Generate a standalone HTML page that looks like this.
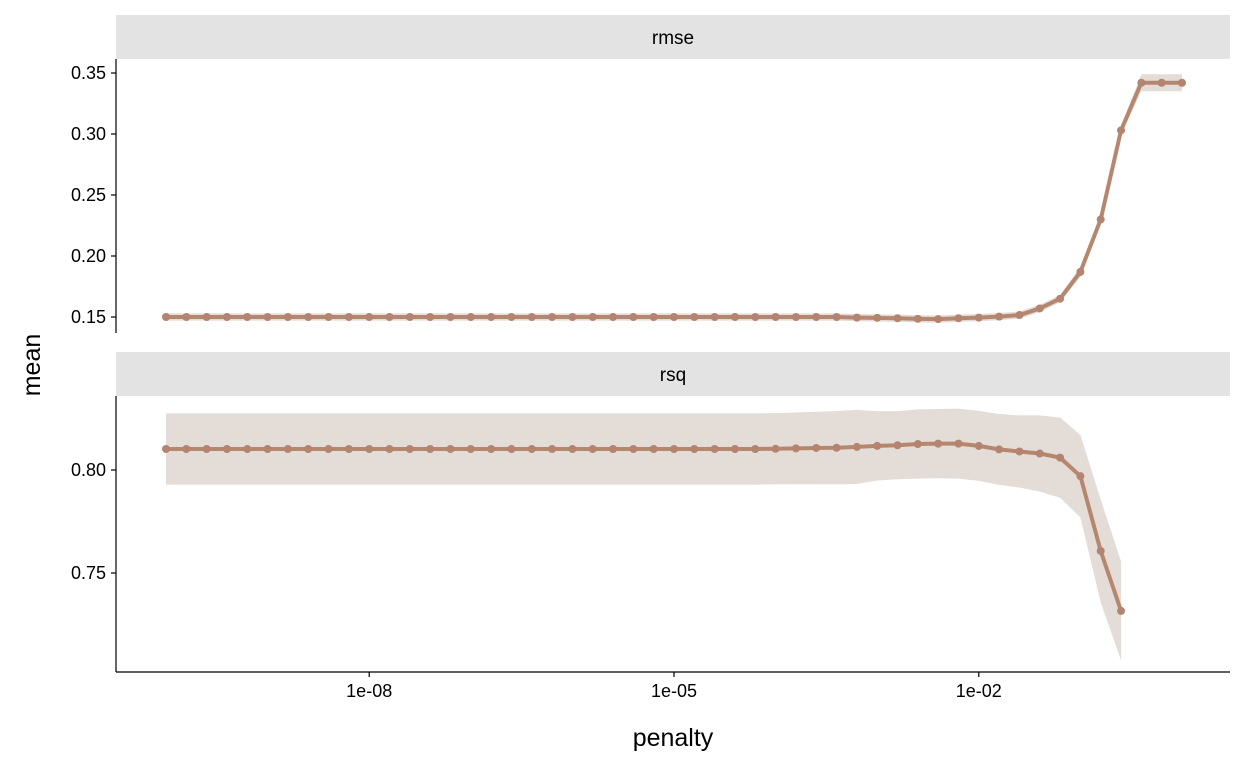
<!DOCTYPE html>
<html><head><meta charset="utf-8">
<style>
body{margin:0;background:#fff;}
svg text{font-family:"Liberation Sans Narrow","Liberation Sans",sans-serif;fill:#000;}
</style></head>
<body>
<svg id="chart" width="1248" height="768" xmlns="http://www.w3.org/2000/svg">
<rect x="116" y="15" width="1114" height="44" fill="#e3e3e3"/>
<text x="673" y="44" font-size="19" text-anchor="middle">rmse</text>
<rect x="116" y="352" width="1114" height="44" fill="#e3e3e3"/>
<text x="673" y="381" font-size="19" text-anchor="middle">rsq</text>
<g id="p1"></g>
<g id="p2"></g>
<line x1="116" y1="59" x2="116" y2="333" stroke="#000" stroke-width="1.2"/>
<line x1="116" y1="396" x2="116" y2="672" stroke="#000" stroke-width="1.2"/>
<line x1="116" y1="672" x2="1230" y2="672" stroke="#000" stroke-width="1.2"/>
<g id="ax"></g>
<text x="673" y="746" font-size="25" text-anchor="middle">penalty</text>
<text transform="translate(40,365) rotate(-90)" font-size="25" text-anchor="middle">mean</text>
</svg>
<script>
const logPenalty = Array.from({length:51},(_, i)=>-10+i*0.2);
const rmseMean = [0.150,0.150,0.150,0.150,0.150,0.150,0.150,0.150,0.150,0.150,0.150,0.150,0.150,0.150,0.150,0.150,0.150,0.150,0.150,0.150,0.150,0.150,0.150,0.150,0.150,0.150,0.150,0.150,0.150,0.150,0.150,0.150,0.150,0.150,0.1495,0.1493,0.149,0.1485,0.1483,0.149,0.1495,0.1503,0.1516,0.157,0.165,0.187,0.230,0.303,0.342,0.342,0.342];
const rmseSe = [0.003,0.003,0.003,0.003,0.003,0.003,0.003,0.003,0.003,0.003,0.003,0.003,0.003,0.003,0.003,0.003,0.003,0.003,0.003,0.003,0.003,0.003,0.003,0.003,0.003,0.003,0.003,0.003,0.003,0.003,0.003,0.003,0.003,0.003,0.003,0.003,0.003,0.003,0.003,0.003,0.003,0.003,0.003,0.003,0.003,0.004,0.004,0.004,0.007,0.007,0.007];
const rsqMean = [0.8102,0.8102,0.8102,0.8102,0.8102,0.8102,0.8102,0.8102,0.8102,0.8102,0.8102,0.8102,0.8102,0.8102,0.8102,0.8102,0.8102,0.8102,0.8102,0.8102,0.8102,0.8102,0.8102,0.8102,0.8102,0.8102,0.8102,0.8102,0.8102,0.8102,0.8103,0.8105,0.8107,0.8108,0.8112,0.8117,0.812,0.8126,0.8128,0.8128,0.8117,0.810,0.809,0.808,0.806,0.797,0.7607,0.7316];
const rsqSe = [0.0173,0.0173,0.0173,0.0173,0.0173,0.0173,0.0173,0.0173,0.0173,0.0173,0.0173,0.0173,0.0173,0.0173,0.0173,0.0173,0.0173,0.0173,0.0173,0.0173,0.0173,0.0173,0.0173,0.0173,0.0173,0.0173,0.0173,0.0173,0.0173,0.0173,0.0173,0.0174,0.0176,0.0178,0.018,0.0168,0.0165,0.0168,0.0168,0.017,0.017,0.0172,0.0175,0.0185,0.0195,0.020,0.025,0.024];
const xTicks = [-8,-5,-2];
const xTickLabels = ["1e-08","1e-05","1e-02"];
const rmseTicks = [0.15,0.20,0.25,0.30,0.35];
const rmseTickLabels = ["0.15","0.20","0.25","0.30","0.35"];
const rsqTicks = [0.75,0.80];
const rsqTickLabels = ["0.75","0.80"];

const NS="http://www.w3.org/2000/svg";
const X = v => 166 + (v+10)*101.6;
const Y1 = v => 317 - (v-0.15)*1220;
const Y2 = v => 470 - (v-0.80)*2060;
function mk(tag, attrs, parent){const e=document.createElementNS(NS,tag);for(const k in attrs)e.setAttribute(k,attrs[k]);parent.appendChild(e);return e;}

function panel(g, mean, se, Y, name){
  const n=mean.length;
  let up=[],lo=[];
  for(let i=0;i<n;i++){up.push(X(logPenalty[i])+","+Y(mean[i]+se[i]));lo.unshift(X(logPenalty[i])+","+Y(mean[i]-se[i]));}
  const rb=mk("polygon",{points:up.concat(lo).join(" "),fill:"#e4dcd7"},g);
  
  
  const pts=mean.map((v,i)=>X(logPenalty[i])+","+Y(v)).join(" ");
  const ln=mk("polyline",{points:pts,fill:"none",stroke:"#b5876f","stroke-width":4,"stroke-linejoin":"round"},g);
  
  
  mean.forEach((v,i)=>{
    const c=mk("circle",{cx:X(logPenalty[i]),cy:Y(v),r:4,fill:"#b3846f"},g);
    
    
  });
}
panel(document.getElementById("p1"), rmseMean, rmseSe, Y1, "rmse");
panel(document.getElementById("p2"), rsqMean, rsqSe, Y2, "rsq");

const ax=document.getElementById("ax");
function yt(ticks, labels, Y, name){
  ticks.forEach((t,i)=>{
    const y=Y(t);
    const l=mk("line",{x1:111,x2:116,y1:y,y2:y,stroke:"#000","stroke-width":1.2},ax);
    
    
    const tx=mk("text",{x:106,y:y+6,"font-size":18,"text-anchor":"end"},ax);
    tx.textContent=labels[i];
    
    
  });
}
yt(rmseTicks, rmseTickLabels, Y1, "rmse-y");
yt(rsqTicks, rsqTickLabels, Y2, "rsq-y");
xTicks.forEach((t,i)=>{
  const x=X(t);
  const l=mk("line",{x1:x,x2:x,y1:672,y2:677,stroke:"#000","stroke-width":1.2},ax);
  
  
  const tx=mk("text",{x:x,y:697,"font-size":18,"text-anchor":"middle"},ax);
  tx.textContent=xTickLabels[i];
  
  
});
</script>
</body></html>
